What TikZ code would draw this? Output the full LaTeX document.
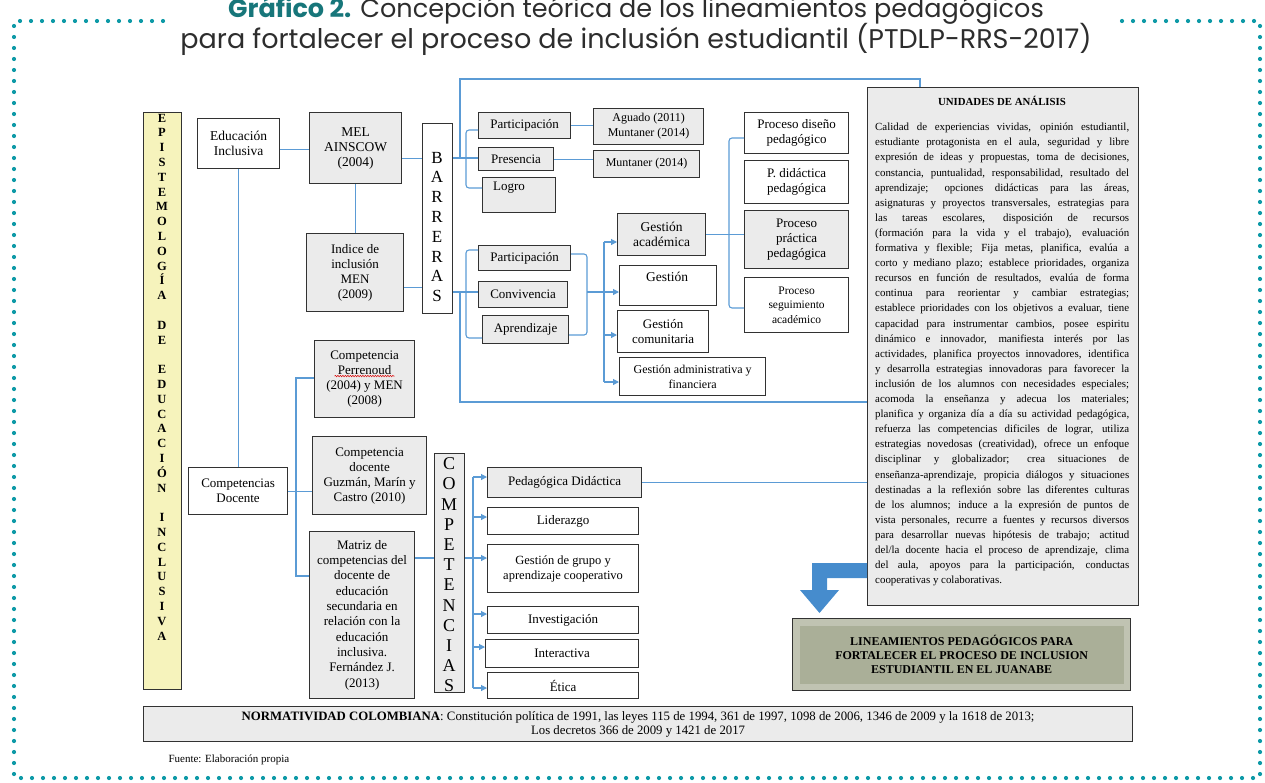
\documentclass[tikz,border=0pt]{standalone}
\usepackage{fontspec}
\setmainfont{Liberation Serif}
\newfontfamily\titlefont{Poppins}
\usetikzlibrary{arrows.meta,decorations.pathmorphing}
\definecolor{dotcol}{RGB}{14,154,167}
\definecolor{titleteal}{RGB}{23,118,122}
\definecolor{titlegray}{RGB}{45,45,45}
\definecolor{linkblue}{RGB}{91,155,213}
\definecolor{arrowblue}{RGB}{70,140,205}
\definecolor{boxgray}{RGB}{235,235,235}
\definecolor{boxline}{RGB}{50,50,50}
\definecolor{epiyellow}{RGB}{246,243,188}
\definecolor{oliveout}{RGB}{192,195,178}
\definecolor{olivein}{RGB}{170,175,152}
\newcommand\jl[1]{\makebox[\linewidth][s]{#1}\par}
\begin{document}
\begin{tikzpicture}[x=1pt,y=-1pt,
  box/.style={draw=boxline,line width=1.2pt,inner sep=1pt,align=center,anchor=north west,font=\fontsize{13}{15}\selectfont},
  gbox/.style={box,fill=boxgray},
  wbox/.style={box,fill=white},
  sz/.style n args={2}{minimum width=#1pt,minimum height=#2pt},
  fs/.style={font=\fontsize{#1}{15}\selectfont},
  conn/.style={draw=linkblue,line width=1.1pt},
  arr/.style={conn,-{Triangle[length=6pt,width=6pt]}},
  plain/.style={inner sep=0pt,align=center}
]
\useasboundingbox (0,0) rectangle (1265,782);

% title
\node[font=\titlefont\fontsize{25.5}{25.5}\selectfont,text=titlegray,anchor=base] (t1) at (636,17)
  {{\color{titleteal}\bfseries Gráfico 2.} Concepción teórica de los lineamientos pedagógicos};
\node[font=\titlefont\fontsize{27}{27}\selectfont,text=titlegray,anchor=base] (t2) at (636,48)
  {para fortalecer el proceso de inclusión estudiantil (PTDLP-RRS-2017)};

% dotted frame
\draw[dotcol,line width=4.2pt,line cap=round,dash pattern=on 0pt off 11pt]
  (163,21) -- (14,21) -- (14,778) -- (1260,778) -- (1260,21) -- (1113,21);

% left column
\node[box,fill=epiyellow,sz={38}{577}] (epi) at (143,112) {};
\node[plain,font=\fontsize{12.5}{14.8}\selectfont\bfseries] (epitext) at (162,377)
  {E\\P\\I\\S\\T\\E\\M\\O\\L\\O\\G\\Í\\A\\[14.8pt]D\\E\\[14.8pt]E\\D\\U\\C\\A\\C\\I\\Ó\\N\\[14.8pt]I\\N\\C\\L\\U\\S\\I\\V\\A};

\node[wbox,sz={82}{50},fs=13.5] (edu) at (197,118) {Educación\\Inclusiva};
\node[gbox,sz={92}{71},fs=13.5] (mel) at (309,112) {MEL\\AINSCOW\\(2004)};
\node[gbox,sz={97}{78}] (indice) at (306,233) {Indice de\\inclusión\\MEN\\(2009)};
\node[wbox,sz={30}{190}] (barr) at (422,123) {};
\node[plain,font=\fontsize{17}{19.8}\selectfont] (barrtext) at (437,227) {B\\A\\R\\R\\E\\R\\A\\S};

\node[wbox,sz={99}{47}] (comdoc) at (188,467) {Competencias\\Docente};
\node[gbox,sz={100}{77}] (perr) at (314,340) {Competencia\\Perrenoud\\(2004) y MEN\\(2008)};
\draw[red!85!black,line width=0.5pt,decorate,decoration={snake,amplitude=0.7pt,segment length=2.5pt}]
  ([xshift=-30pt,yshift=3pt]perr.center) -- ([xshift=30pt,yshift=3pt]perr.center);
\node[gbox,sz={114}{78}] (guz) at (312,436) {Competencia\\docente\\Guzmán, Marín y\\Castro (2010)};
\node[gbox,sz={105}{167},font=\fontsize{13}{15.3}\selectfont] (matriz) at (309,531)
  {Matriz de\\competencias del\\docente de\\educación\\secundaria en\\relación con la\\educación\\inclusiva.\\Fernández J.\\(2013)};
\node[gbox,sz={30}{239}] (comp) at (434,453) {};
\node[plain,font=\fontsize{18}{20.2}\selectfont] (comptext) at (449,575) {C\\O\\M\\P\\E\\T\\E\\N\\C\\I\\A\\S};

% barreras branch
\node[gbox,sz={92}{26}] (part1) at (478,112) {Participación};
\node[gbox,sz={75}{23}] (pres) at (478,147) {Presencia};
\node[gbox,sz={73}{35}] (logro) at (482,177) {};
\node[plain,font=\fontsize{13}{15}\selectfont] (logrot) at (509,188) {Logro};
\node[gbox,sz={110}{36},fs=12] (agu) at (593,108) {Aguado (2011)\\Muntaner (2014)};
\node[gbox,sz={106}{27},fs=12] (munt) at (593,150) {Muntaner (2014)};

\node[gbox,sz={92}{25}] (part2) at (478,245) {Participación};
\node[gbox,sz={89}{26}] (conv) at (478,281) {Convivencia};
\node[gbox,sz={86}{28}] (apr) at (482,315) {Aprendizaje};

\node[gbox,sz={88}{42},fs=13.5] (gacad) at (617,213) {Gestión\\académica};
\node[wbox,sz={97}{40}] (gest) at (619,265) {};
\node[plain,font=\fontsize{13.5}{15}\selectfont] (gestt) at (667,277) {Gestión};
\node[wbox,sz={91}{42}] (gcom) at (617,310) {Gestión\\comunitaria};
\node[wbox,sz={146}{38},fs=12] (gadm) at (619,357) {Gestión administrativa y\\financiera};

\node[wbox,sz={104}{41}] (pdis) at (744,112) {Proceso diseño\\pedagógico};
\node[wbox,sz={104}{43}] (pdid) at (744,160) {P. didáctica\\pedagógica};
\node[gbox,sz={104}{58}] (pprac) at (744,210) {Proceso\\práctica\\pedagógica};
\node[wbox,sz={104}{55},font=\fontsize{11.5}{14.5}\selectfont] (pseg) at (744,277) {Proceso\\seguimiento\\académico};

% competencias branch
\node[gbox,sz={154}{30}] (ped) at (487,467) {Pedagógica Didáctica};
\node[wbox,sz={151}{27}] (lid) at (487,507) {Liderazgo};
\node[wbox,sz={151}{48},fs=12.5] (ggr) at (487,544) {Gestión de grupo y\\aprendizaje cooperativo};
\node[wbox,sz={151}{27}] (inv) at (487,606) {Investigación};
\node[wbox,sz={153}{28}] (intr) at (485,639) {Interactiva};
\node[wbox,sz={151}{26}] (etica) at (487,672) {Ética};

% unidades
\node[gbox,sz={271}{518}] (unid) at (867,87) {};
\node[font=\fontsize{10.8}{12}\selectfont\bfseries] (unidtitle) at (1002,101) {UNIDADES DE ANÁLISIS};
\node[anchor=north west,inner sep=0pt,font=\fontsize{10.9}{15.1}\selectfont] (unidtext) at (875,123)
{\begin{minipage}[t]{254pt}
\jl{Calidad de experiencias vividas, opinión estudiantil,}
\jl{estudiante protagonista en el aula, seguridad y libre}
\jl{expresión de ideas y propuestas, toma de decisiones,}
\jl{constancia, puntualidad, responsabilidad, resultado del}
\jl{aprendizaje; opciones didácticas para las áreas,}
\jl{asignaturas y proyectos transversales, estrategias para}
\jl{las tareas escolares, disposición de recursos}
\jl{(formación para la vida y el trabajo), evaluación}
\jl{formativa y flexible; Fija metas, planifica, evalúa a}
\jl{corto y mediano plazo; establece prioridades, organiza}
\jl{recursos en función de resultados, evalúa de forma}
\jl{continua para reorientar y cambiar estrategias;}
\jl{establece prioridades con los objetivos a evaluar, tiene}
\jl{capacidad para instrumentar cambios, posee espiritu}
\jl{dinámico e innovador, manifiesta interés por las}
\jl{actividades, planifica proyectos innovadores, identifica}
\jl{y desarrolla estrategias innovadoras para favorecer la}
\jl{inclusión de los alumnos con necesidades especiales;}
\jl{acomoda la enseñanza y adecua los materiales;}
\jl{planifica y organiza día a día su actividad pedagógica,}
\jl{refuerza las competencias dificiles de lograr, utiliza}
\jl{estrategias novedosas (creatividad), ofrece un enfoque}
\jl{disciplinar y globalizador; crea situaciones de}
\jl{enseñanza-aprendizaje, propicia diálogos y situaciones}
\jl{destinadas a la reflexión sobre las diferentes culturas}
\jl{de los alumnos; induce a la expresión de puntos de}
\jl{vista personales, recurre a fuentes y recursos diversos}
\jl{para desarrollar nuevas hipótesis de trabajo; actitud}
\jl{del/la docente hacia el proceso de aprendizaje, clima}
\jl{del aula, apoyos para la participación, conductas}
cooperativas y colaborativas.
\end{minipage}};

% lineamientos
\node[draw=boxline,line width=1.3pt,fill=oliveout,anchor=north west,sz={338}{72}] (linea) at (792,618) {};
\node[fill=olivein,minimum width=324pt,minimum height=58pt,align=center,
      font=\fontsize{12}{14}\selectfont\bfseries] (lineain) at (linea.center)
  {LINEAMIENTOS PEDAGÓGICOS PARA\\FORTALECER EL PROCESO DE INCLUSION\\ESTUDIANTIL EN EL JUANABE};

% normatividad
\node[gbox,sz={989}{35},font=\fontsize{12.8}{14}\selectfont] (norm) at (143,706)
  {\textbf{NORMATIVIDAD COLOMBIANA}: Constitución política de 1991, las leyes 115 de 1994, 361 de 1997, 1098 de 2006, 1346 de 2009 y la 1618 de 2013;\\Los decretos 366 de 2009 y 1421 de 2017};
\node[anchor=west,font=\fontsize{11}{12}\selectfont] (fuente) at (165,760) {Fuente: Elaboración propia};

% coordinates
\coordinate (jb1) at (466,158);
\coordinate (tl) at (460,79);
\coordinate (tr) at (920,79);
\coordinate (bt1) at (466,130);
\coordinate (bt3) at (466,188);
\coordinate (jb2) at (466,292);
\coordinate (bl) at (460,402);
\coordinate (bb1) at (466,250);
\coordinate (bb3) at (466,338);
\coordinate (rb1) at (587,254);
\coordinate (rb3) at (587,335);
\coordinate (rbm) at (587,292);
\coordinate (gb1) at (604,242);
\coordinate (gbm) at (604,292);
\coordinate (gb3) at (604,335);
\coordinate (gb4) at (604,382);
\coordinate (pb1) at (729,138);
\coordinate (pb4) at (729,308);
\coordinate (cb1) at (296,378);
\coordinate (cb2) at (296,576);
\coordinate (cc1) at (473,477);
\coordinate (cc2) at (473,517);
\coordinate (cc3) at (473,558);
\coordinate (cc4) at (473,614);
\coordinate (cc5) at (473,647);
\coordinate (cc6) at (473,688);

% connectors
\draw[conn] ([yshift=-6pt]edu.east) -- ([yshift=-6pt]edu.east -| mel.west);
\draw[conn] ([yshift=60pt]barr.west -| mel.east) -- ([yshift=60pt]barr.west);
\draw[conn] (mel.south) -- (mel.south |- indice.north);
\draw[conn] ([yshift=-69pt]barr.west -| indice.east) -- ([yshift=-69pt]barr.west);
\draw[conn] (edu.south) -- (edu.south |- comdoc.north);
\draw[conn] (comdoc.east) -- (comdoc.east -| guz.west);
\draw[conn] (perr.west |- cb1) -- (cb1) -- (cb2) -- (matriz.west |- cb2);
\draw[conn] (matriz.east |- cc3) -- (comp.west |- cc3);

\draw[conn] (barr.east |- jb1) -- (jb1);
\draw[conn] (tl |- jb1) -- (tl) -- (tr) -- (tr |- unid.north);
\draw[conn,rounded corners=3pt] (part1.west |- bt1) -- (bt1) -- (bt3) -- (logro.west |- bt3);
\draw[conn] (jb1) -- (pres.west |- jb1);
\draw[conn] (part1.east) -- (part1.east -| agu.west);
\draw[conn] (pres.east) -- (pres.east -| munt.west);

\draw[conn] (barr.east |- jb2) -- (jb2) -- (conv.west |- jb2);
\draw[conn] (tl |- jb2) -- (bl) -- (unid.west |- bl);
\draw[conn,rounded corners=3pt] (part2.west |- bb1) -- (bb1) -- (bb3) -- (apr.west |- bb3);
\draw[conn,rounded corners=3pt] (part2.east |- rb1) -- (rb1) -- (rb3) -- (apr.east |- rb3);
\draw[conn] (rbm) -- (gbm);
\draw[conn] (gb1) -- (gb4);
\draw[arr] (gb1) -- (gacad.west |- gb1);
\draw[arr] (gbm) -- (gest.west |- gbm);
\draw[arr] (gb3) -- (gcom.west |- gb3);
\draw[arr] (gb4) -- (gadm.west |- gb4);

\draw[conn] (gacad.east) -- (gacad.east -| pprac.west);
\draw[conn,rounded corners=3pt] (pdis.west |- pb1) -- (pb1) -- (pb4) -- (pseg.west |- pb4);

\draw[conn] (comp.east |- cc3) -- (cc3);
\draw[conn] (cc1) -- (cc6);
\draw[arr] (cc1) -- (ped.west |- cc1);
\draw[arr] (cc2) -- (lid.west |- cc2);
\draw[arr] (cc3) -- (ggr.west |- cc3);
\draw[arr] (cc4) -- (inv.west |- cc4);
\draw[arr] (cc5) -- (intr.west |- cc5);
\draw[arr] (cc6) -- (etica.west |- cc6);
\draw[conn] (ped.east) -- (ped.east -| unid.west);

% block arrow
\coordinate (ba) at (867,563);
\fill[arrowblue] (unid.west |- ba) -- (812,563) -- (812,590) -- (800,590) -- (819.5,613)
  -- (839,590) -- (827,590) -- (827,578) -- (unid.west |- 0,578) -- cycle;
\end{tikzpicture}
\end{document}
